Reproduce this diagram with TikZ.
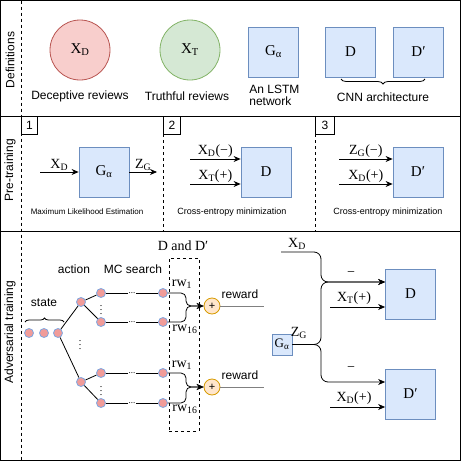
\documentclass[tikz,border=0pt]{standalone}
\usepackage{fontspec}
\setmainfont{Liberation Serif}
\setsansfont{Liberation Sans}
\usetikzlibrary{arrows.meta,decorations.pathreplacing,calc}
\definecolor{redF}{HTML}{F8CECC}
\definecolor{redS}{HTML}{B85450}
\definecolor{greenF}{HTML}{D5E8D4}
\definecolor{greenS}{HTML}{82B366}
\definecolor{blueF}{HTML}{DAE8FC}
\definecolor{blueS}{HTML}{6C8EBF}
\definecolor{dotF}{HTML}{F19C99}
\definecolor{dotS}{HTML}{7EA6E0}
\definecolor{plusF}{HTML}{FFE6CC}
\definecolor{plusS}{HTML}{D79B00}
\newcommand{\myXD}{X\textsubscript{D}}
\newcommand{\myXT}{X\textsubscript{T}}
\newcommand{\myZG}{Z\textsubscript{G}}
\newcommand{\myGa}{G\textsubscript{α}}
\newcommand{\myDp}{D′}
\tikzset{
  sans/.style={font=\sffamily\fontsize{12}{12}\selectfont},
  smallt/.style={font=\sffamily\fontsize{8}{9}\selectfont},
  smallc/.style={font=\sffamily\fontsize{9}{10}\selectfont},
  ser/.style={font=\fontsize{14}{16}\selectfont},
  serbig/.style={font=\fontsize{15}{17}\selectfont},
  bluebox/.style={draw=blueS, fill=blueF, minimum width=50, minimum height=50, inner sep=0, serbig},
  numbox/.style={draw, anchor=north west, inner sep=0, minimum height=18, font=\sffamily\fontsize{12}{12}\selectfont},
  dot/.style={circle, draw=dotS, fill=dotF, minimum size=9, inner sep=0, line width=0.8},
  plus/.style={circle, draw=plusS, fill=plusF, minimum size=16, inner sep=0, font=\sffamily\fontsize{11}{11}\selectfont},
  arr/.style={-{Stealth[length=7,width=6]}},
  lbl/.style={inner sep=1, ser},
  dotsn/.style={fill=white, inner sep=1, font=\fontsize{9}{9}\selectfont},
  vd/.style={inner sep=0, font=\fontsize{10}{10}\selectfont},
}
\begin{document}
\begin{tikzpicture}[x=1pt, y=-1pt, line width=0.8]
\useasboundingbox (0,0) rectangle (462,466);
% frame
\draw (0.5,0.5) rectangle (460.5,460.5);
\draw (0,116) -- (461,116);
\draw (0,231) -- (461,231);
\draw[dashed] (21,0.5) -- (21,460.5);
\draw[dashed] (163,116) -- (163,231);
\draw[dashed] (315,116) -- (315,231);
% section labels
\node[sans, rotate=90] (lab1) at (10,60) {Definitions};
\node[sans, rotate=90] (lab2) at (10,170) {Pre-training};
\node[sans, rotate=90] (lab3) at (10,332) {Adversarial training};

% ---------- Definitions ----------
\node[circle, draw=redS, fill=redF, minimum size=60, inner sep=0, serbig] (xd) at (80,50) {\myXD};
\node[sans] (xdl) at (80,96) {Deceptive reviews};
\node[circle, draw=greenS, fill=greenF, minimum size=60, inner sep=0, serbig] (xt) at (190,50) {\myXT};
\node[sans] (xtl) at (187,96) {Truthful reviews};
\node[bluebox] (gdef) at (273.5,52) {\myGa};
\node[sans, align=left, anchor=north west, inner sep=0] (lstm) at (249,85) {An LSTM\\network};
\node[bluebox] (ddef) at (350.5,52) {D};
\node[bluebox] (dpdef) at (418.5,52) {\myDp};
\coordinate (br1) at (341,79);
\coordinate (br2) at (425,79);
\draw[decorate, decoration={brace, mirror, amplitude=5}] (br1) -- (br2);
\node[sans] (cnn) at (383,97) {CNN architecture};

% ---------- Pre-training ----------
\node[numbox, minimum width=16] (n1) at (21,116) {1};
\node[numbox, minimum width=17] (n2) at (163,116) {2};
\node[numbox, minimum width=19] (n3) at (315,116) {3};

\node[bluebox] (g1) at (104,172) {\myGa};
\coordinate (in1) at (40,172);
\coordinate (out1) at (157,172);
\draw[arr] (in1) -- node[lbl, above] {\myXD} (g1.west);
\draw[arr] (g1.east) -- node[lbl, above] {\myZG} (out1);
\node[smallt] (mle) at (87,212) {Maximum Likelihood Estimation};

\node[bluebox] (d2) at (266,172) {D};
\coordinate (t2a) at (190,159);
\coordinate (t2b) at (190,184);
\draw[arr] (t2a) -- node[lbl, above] {\myXD(−)} (t2a -| d2.west);
\draw[arr] (t2b) -- node[lbl, above] {\myXT(+)} (t2b -| d2.west);
\node[smallc] (ce2) at (232,212) {Cross-entropy minimization};

\node[bluebox] (d3) at (418,172) {\myDp};
\coordinate (t3a) at (339,159);
\coordinate (t3b) at (339,184);
\draw[arr] (t3a) -- node[lbl, above] {\myZG(−)} (t3a -| d3.west);
\draw[arr] (t3b) -- node[lbl, above] {\myXD(+)} (t3b -| d3.west);
\node[smallc] (ce3) at (388,212) {Cross-entropy minimization};

% ---------- Adversarial training ----------
\node[sans] (statel) at (44,303) {state};
\coordinate (sb1) at (25,322);
\coordinate (sb2) at (64,322);
\draw[decorate, decoration={brace, amplitude=4}] (sb1) -- (sb2);
\node[sans] (actl) at (74,269) {action};
\node[sans] (mcl) at (133,269) {MC search};

\node[dot] (s1) at (29,333) {};
\node[dot] (s2) at (44,333) {};
\node[dot] (s3) at (58,333) {};
\node[dot] (a1) at (81,302) {};
\node[dot] (a2) at (81,382) {};
\draw (s3) -- (a1);
\draw (s3) -- (a2);
\node[vd] (vda) at (80,342) {$\vdots$};
\node[dot] (c1) at (101,293) {};
\node[dot] (c2) at (101,322) {};
\node[dot] (c3) at (101,373) {};
\node[dot] (c4) at (101,403) {};
\draw (a1) -- (c1);
\draw (a1) -- (c2);
\draw (a2) -- (c3);
\draw (a2) -- (c4);
\node[vd] (vdb) at (101,307.5) {$\vdots$};
\node[vd] (vdc) at (101,388) {$\vdots$};
\node[dot] (e1) at (163,293) {};
\node[dot] (e2) at (163,322) {};
\node[dot] (e3) at (163,373) {};
\node[dot] (e4) at (163,403) {};
\draw (c1) -- node[dotsn] {...} (e1);
\draw (c2) -- node[dotsn] {...} (e2);
\draw (c3) -- node[dotsn] {...} (e3);
\draw (c4) -- node[dotsn] {...} (e4);

\node[draw, dashed, minimum width=30, minimum height=173, inner sep=0] (dbox) at (184,344.5) {};
\node[ser] (dandd) at (183,246) {D and \myDp};
\node[ser, inner sep=0] (rw1a) at (182,284) {rw\textsubscript{1}};
\node[ser, inner sep=0] (rw16a) at (185,329) {rw\textsubscript{16}};
\node[ser, inner sep=0] (rw1b) at (182,365) {rw\textsubscript{1}};
\node[ser, inner sep=0] (rw16b) at (185,409) {rw\textsubscript{16}};

\node[plus] (p1) at (212,306) {+};
\node[plus] (p2) at (212,387) {+};
\coordinate (m1) at (186,306);
\coordinate (m2) at (186,387);
\draw[arr, rounded corners=5] (e1) -- (e1 -| m1) -- (m1) -- (p1);
\draw[arr, rounded corners=5] (e2) -- (e2 -| m1) -- (m1) -- (p1);
\draw[arr, rounded corners=5] (e3) -- (e3 -| m2) -- (m2) -- (p2);
\draw[arr, rounded corners=5] (e4) -- (e4 -| m2) -- (m2) -- (p2);
\coordinate (r1) at (264,306);
\coordinate (r2) at (264,387);
\draw[gray] (p1) -- (r1);
\draw[gray] (p2) -- (r2);
\node[sans] (rwl1) at (240,294) {reward};
\node[sans] (rwl2) at (240,375) {reward};

% right part
\node[draw=blueS, fill=blueF, minimum width=20, minimum height=21, inner sep=0, font=\fontsize{13}{13}\selectfont] (gs) at (282,344.5) {\myGa};
\node[lbl] (zgl) at (299,333) {\myZG};
\node[bluebox] (dR) at (410.5,294) {D};
\node[bluebox] (dpR) at (410.5,394) {\myDp};
\coordinate (xs) at (281,252);
\node[lbl] (xdl2) at (297,244) {\myXD};
\coordinate (j1) at (321,282);
\coordinate (j2) at (321,382);
\coordinate (gj) at (321,344.5);
\draw[arr, rounded corners=7] (xs) -- (xs -| j1) -- (j1) -- (j1 -| dR.west);
\draw[arr, rounded corners=7] (gs.east) -- (gj) -- (j1) -- (j1 -| dR.west);
\draw[arr, rounded corners=7] (gs.east) -- (gj) -- (j2) -- (j2 -| dpR.west);
\node[lbl] (m1l) at (351,274) {−};
\node[lbl] (m2l) at (351,369) {−};
\coordinate (xt2) at (330,307);
\coordinate (xd2) at (330,407);
\draw[arr] (xt2) -- (xt2 -| dR.west);
\draw[arr] (xd2) -- (xd2 -| dpR.west);
\node[lbl] (xtl2) at (354,298) {\myXT(+)};
\node[lbl] (xdl3) at (354,398) {\myXD(+)};
\end{tikzpicture}
\end{document}
